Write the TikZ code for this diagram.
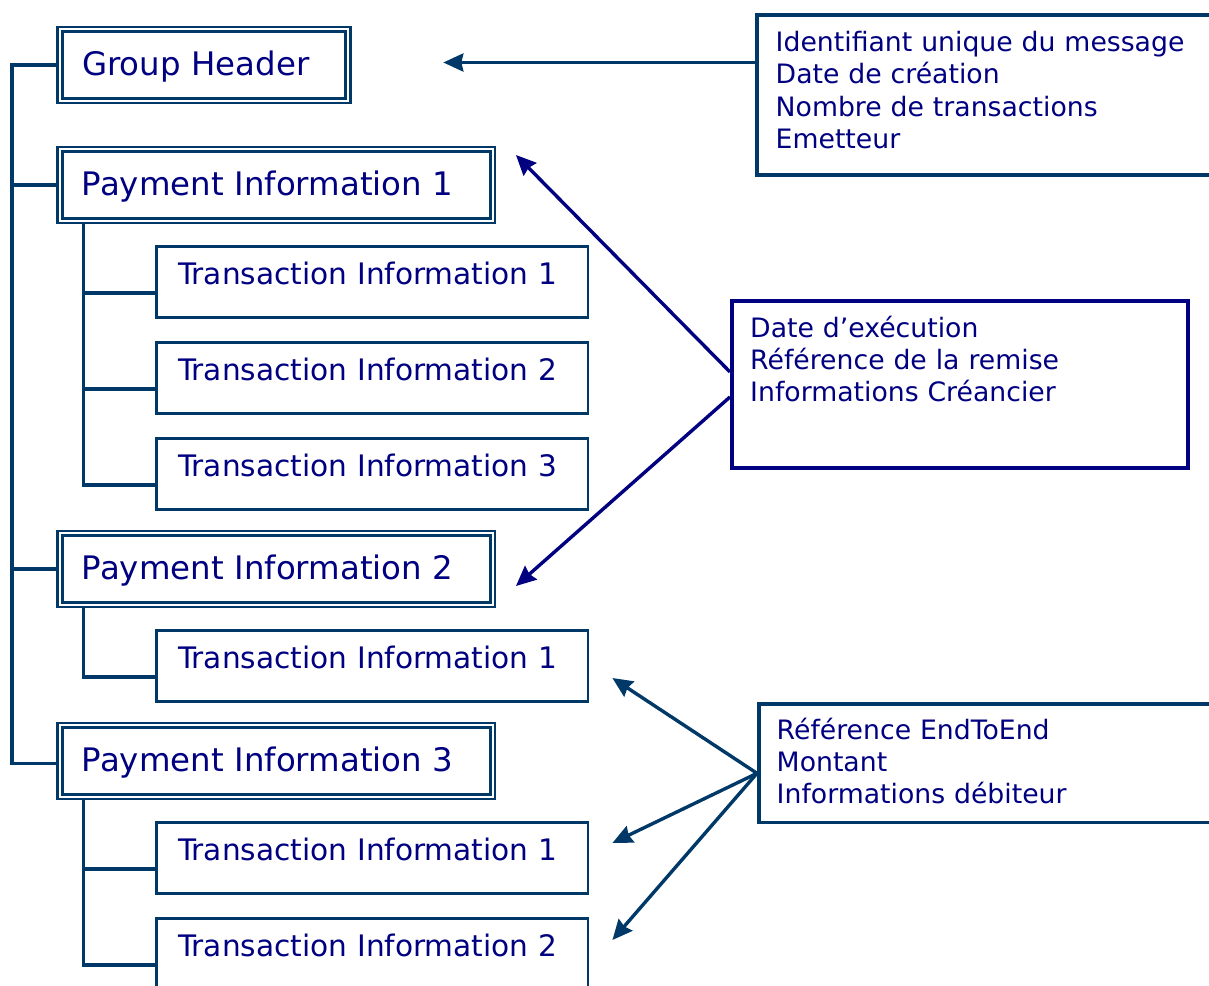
\documentclass[tikz,border=0pt]{standalone}
\usepackage{fontspec}
\setmainfont{DejaVu Sans}
\usetikzlibrary{calc,arrows.meta}
\definecolor{linkblue}{RGB}{0,56,104}
\definecolor{textnavy}{RGB}{0,0,128}
\tikzset{
	link/.style={line width=3.6pt, color=linkblue},
	paybox/.style={draw=linkblue, double=white, line width=2.6pt, double distance=2pt,
		minimum height=71.5pt, inner xsep=22pt, align=left, text=textnavy,
		text height=23.3pt, text depth=2.7pt, font=\fontsize{32.4}{38}\selectfont},
	txbox/.style={draw=linkblue, line width=2.7pt, minimum height=71.5pt, inner xsep=21.7pt,
		text width=388.3pt, align=left, text=textnavy,
		text height=21.5pt, text depth=15.6pt, font=\fontsize{29.6}{35}\selectfont},
	notebox/.style={draw=#1, line width=3.8pt, anchor=north west, inner sep=0pt},
	notetext/.style={anchor=base west, inner sep=0pt, align=left, text=textnavy,
		text width=440pt, font=\fontsize{26.7}{32.2}\selectfont},
	ptr/.style={line width=3.4pt, color=#1, -{Stealth[length=20pt, width=18pt, inset=2pt]}}
}

\begin{document}
\begin{tikzpicture}[x=1pt, y=-1pt]
			%%%%% START %%%%%
			\useasboundingbox (0,0) rectangle (1209,985);
			\clip (0,0) rectangle (1209,985);
			
			\node[paybox, text width=244pt] (gh) at (204, 65) {Group Header};
			\node[paybox, text width=388.7pt] (pi1) at (276.3, 185) {Payment Information 1};
			\node[paybox, text width=388.7pt] (pi2) at (276.3, 569) {Payment Information 2};
			\node[paybox, text width=388.7pt] (pi3) at (276.3, 761) {Payment Information 3};
			
			\node[txbox] (t11) at (372.2, 282) {Transaction Information 1};
			\node[txbox] (t12) at (372.2, 378) {Transaction Information 2};
			\node[txbox] (t13) at (372.2, 474) {Transaction Information 3};
			\node[txbox] (t21) at (372.2, 666) {Transaction Information 1};
			\node[txbox] (t31) at (372.2, 858) {Transaction Information 1};
			\node[txbox] (t32) at (372.2, 954) {Transaction Information 2};
			
			% tree
			\coordinate (trunk) at (12, 0);
			\coordinate (sub) at (83.5, 0);
			\draw[link] (gh.west) -- (gh.west -| trunk) |- ($(pi3.west)+(0,2.5)$);
			\foreach \p in {pi1,pi2}
				\draw[link] (\p.west) -- (\p.west -| trunk);
			\foreach \p/\t in {pi1/t13, pi2/t21, pi3/t32}
				\draw[link] (\p.south -| sub) |- ($(\t.west)+(0,11)$);
			\foreach \t in {t11,t12,t31}
				\draw[link] ($(\t.west -| sub)+(0,11)$) -- ($(\t.west)+(0,11)$);
			
			% notes
			\node[notebox=linkblue, minimum width=520pt, minimum height=160pt] (msg) at (755.3, 13.3) {};
			\node[notetext] (msgtxt) at ($(msg.north west)+(20.2,38.4)$)
				{Identifiant unique du message\\Date de création\\Nombre de transactions\\Emetteur};
			
			\node[notebox=textnavy, minimum width=456pt, minimum height=166.7pt] (pay) at (730, 299.3) {};
			\node[notetext] (paytxt) at ($(pay.north west)+(20,38)$)
				{Date d’exécution\\Référence de la remise\\Informations Créancier};
			
			\node[notebox=linkblue, minimum width=520pt, minimum height=118.5pt] (tx) at (757, 702) {};
			\node[notetext] (txtxt) at ($(tx.north west)+(19.5,37.3)$)
				{Référence EndToEnd\\Montant\\Informations débiteur};
			
			% arrows
			\coordinate (ghtip) at ($(gh.east)+(94,-2.5)$);
			\coordinate (pi1tip) at ($(pi1.east)+(22,-30)$);
			\coordinate (pi2tip) at ($(pi2.east)+(22,17)$);
			\coordinate (t21tip) at ($(t21.east)+(23,12)$);
			\coordinate (t31tip) at ($(t31.east)+(23,-15)$);
			\coordinate (t32tip) at ($(t32.east)+(23,-14)$);
			
			\draw[ptr=linkblue] (msg.west |- ghtip) -- (ghtip);
			\draw[ptr=textnavy] ($(pay.west)+(0,-12.6)$) -- (pi1tip);
			\draw[ptr=textnavy] ($(pay.west)+(0,12.4)$) -- (pi2tip);
			\foreach \t in {t21tip,t31tip,t32tip}
				\draw[ptr=linkblue] ($(tx.north west)+(0,71.3)$) -- (\t);
			
			%%%%% END %%%%%
\end{tikzpicture}
\end{document}
